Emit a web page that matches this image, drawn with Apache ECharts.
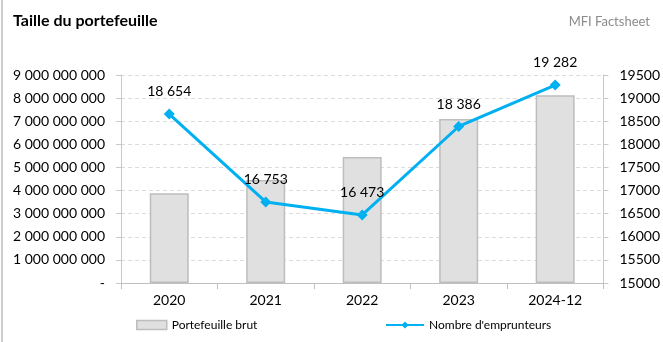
<!DOCTYPE html>
<html><head><meta charset="utf-8">
<script src="https://cdn.jsdelivr.net/npm/echarts@6/dist/echarts.min.js"></script>
<style>html,body{margin:0;padding:0;background:#fff}#c{width:663px;height:342px}</style>
</head><body><div id="c"></div>
<script>
const categories = ['2020', '2021', '2022', '2023', '2024-12'];
const portefeuilleBrut = [3880000000, 4460000000, 5450000000, 7100000000, 8120000000];
const nombreEmprunteurs = [18654, 16753, 16473, 18386, 19282];
const leftTicks = [0, 1e9, 9e9];   // min, interval, max
const rightTicks = [15000, 500, 19500];

function fmtSpace(v) {
  if (v === 0) return '-';
  return String(Math.round(v)).replace(/\B(?=(\d{3})+(?!\d))/g, ' ');
}
const FONT = 'Lato';
const chart = echarts.init(document.getElementById('c'));
chart.setOption({
  animation: false,
  textStyle: { fontFamily: FONT },
  title: [
    { text: 'Taille du portefeuille', left: 8, top: 8, textStyle: { fontFamily: FONT, fontSize: 16, fontWeight: 'bold', color: '#000' } },
    { text: 'MFI Factsheet', right: 8, top: 10, textStyle: { fontFamily: FONT, fontSize: 13, fontWeight: 'normal', color: '#8c8c8c' } }
  ],
  graphic: [{ type: 'line', shape: { x1: 2, y1: 0, x2: 2, y2: 342 }, style: { stroke: '#9a9a9a', lineWidth: 1 } }],
  grid: { left: 121, right: 59, top: 75, bottom: 59, containLabel: false },
  legend: [
    {
      bottom: 6, left: 131,
      textStyle: { fontFamily: FONT, fontSize: 12, color: '#000' },
      data: [{ name: 'Portefeuille brut', icon: 'rect', itemStyle: { color: '#e0e0e0', borderColor: '#bdbdbd', borderWidth: 1.5 } }],
      itemWidth: 30, itemHeight: 9, itemGap: 4
    },
    {
      bottom: 6, left: 380,
      textStyle: { fontFamily: FONT, fontSize: 12, color: '#000' },
      data: [{ name: "Nombre d'emprunteurs" }],
      itemWidth: 38, itemHeight: 9
    }
  ],
  xAxis: {
    type: 'category', data: categories,
    axisLine: { lineStyle: { color: '#c0c0c0' } },
    axisTick: { show: true, length: 6, lineStyle: { color: '#c0c0c0' } },
    axisLabel: { fontFamily: FONT, fontSize: 14, color: '#000', margin: 10 }
  },
  yAxis: [
    {
      type: 'value', min: leftTicks[0], interval: leftTicks[1], max: leftTicks[2],
      axisLine: { show: true, lineStyle: { color: '#c8c8c8' } },
      axisTick: { show: true, length: 5, lineStyle: { color: '#c8c8c8' } },
      splitLine: { show: true, lineStyle: { color: '#dcdcdc', type: [4, 3] } },
      axisLabel: { fontFamily: FONT, fontSize: 14, color: '#000', margin: 16, formatter: fmtSpace }
    },
    {
      type: 'value', min: rightTicks[0], interval: rightTicks[1], max: rightTicks[2],
      axisLine: { show: true, lineStyle: { color: '#c8c8c8' } },
      axisTick: { show: true, length: 5, lineStyle: { color: '#c8c8c8' } },
      splitLine: { show: false },
      axisLabel: { fontFamily: FONT, fontSize: 14, color: '#000', margin: 16, formatter: v => String(v) }
    }
  ],
  series: [
    {
      name: 'Portefeuille brut', type: 'bar', data: portefeuilleBrut, yAxisIndex: 0,
      barWidth: 39,
      itemStyle: { color: '#e0e0e0', borderColor: '#bdbdbd', borderWidth: 1.5 }
    },
    {
      name: "Nombre d'emprunteurs", type: 'line', data: nombreEmprunteurs, yAxisIndex: 1,
      symbol: 'diamond', symbolSize: 11,
      lineStyle: { color: '#00b0f0', width: 3 },
      itemStyle: { color: '#00b0f0' },
      label: { show: true, position: 'top', distance: 10, fontFamily: FONT, fontSize: 14, color: '#000', formatter: p => fmtSpace(p.value) }
    }
  ]
});
</script></body></html>
